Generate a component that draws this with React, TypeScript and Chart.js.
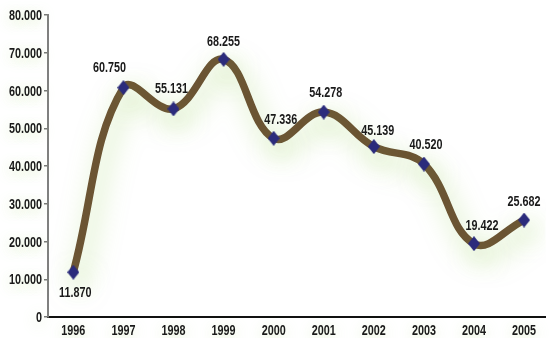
import React, { useEffect, useRef } from "react";
import { Chart, registerables } from "chart.js";

Chart.register(...registerables);

const years = [1996, 1997, 1998, 1999, 2000, 2001, 2002, 2003, 2004, 2005];
const values = [11870, 60750, 55131, 68255, 47336, 54278, 45139, 40520, 19422, 25682];
const yTicks = [0, 10000, 20000, 30000, 40000, 50000, 60000, 70000, 80000];
// label anchor offsets (dx, dy) relative to each point
const labelDx = [2, -14, -2, 0, 7, 2, 4, 2, 8, 0];
const labelDy = [21, -20, -20, -17, -18, -19, -16, -19, -18, -18];

const FONT = '"Liberation Sans", Arial, sans-serif';
const SX = 0.72; // horizontal condensing to mimic a narrow face

function fmt(v: number): string {
  if (v === 0) return "0";
  const s = Math.round(v).toString();
  return s.replace(/\B(?=(\d{3})+(?!\d))/g, ".");
}

function narrowText(ctx: CanvasRenderingContext2D, text: string, x: number, y: number, align: CanvasTextAlign) {
  ctx.save();
  ctx.translate(x, y);
  ctx.scale(SX, 1);
  ctx.textAlign = align;
  ctx.fillText(text, 0, 0);
  ctx.restore();
}

function makeDiamond(): HTMLCanvasElement {
  const c = document.createElement("canvas");
  c.width = 12;
  c.height = 15;
  const g = c.getContext("2d")!;
  g.fillStyle = "#2b2b7c";
  g.beginPath();
  g.moveTo(6, 0);
  g.lineTo(12, 7.5);
  g.lineTo(6, 15);
  g.lineTo(0, 7.5);
  g.closePath();
  g.fill();
  return c;
}

const glowPlugin = {
  id: "glow",
  beforeDatasetDraw(chart: any) {
    const ctx = chart.ctx;
    ctx.save();
    ctx.shadowColor = "rgba(150,205,90,0.55)";
    ctx.shadowBlur = 26;
    ctx.shadowOffsetX = 5;
    ctx.shadowOffsetY = 10;
  },
  afterDatasetDraw(chart: any) {
    chart.ctx.restore();
  },
};

const textPlugin = {
  id: "texts",
  beforeDatasetsDraw(chart: any) {
    const ctx = chart.ctx;
    const xs = chart.scales.x;
    const ys = chart.scales.y;
    ctx.save();
    ctx.font = `bold 15px ${FONT}`;
    ctx.fillStyle = "#1a1a1a";
    ctx.textBaseline = "middle";
    ctx.shadowColor = "rgba(170,215,120,0.45)";
    ctx.shadowBlur = 14;
    ctx.shadowOffsetY = 3;
    yTicks.forEach((v) => {
      narrowText(ctx, fmt(v), 42, ys.getPixelForValue(v) + 1, "right");
    });
    years.forEach((yr) => {
      narrowText(ctx, String(yr), xs.getPixelForValue(yr), 330.5, "center");
    });
    ctx.restore();
  },
  afterDatasetsDraw(chart: any) {
    const ctx = chart.ctx;
    const meta = chart.getDatasetMeta(0);
    ctx.save();
    ctx.font = `bold 15px ${FONT}`;
    ctx.fillStyle = "#1a1a1a";
    ctx.textBaseline = "middle";
    meta.data.forEach((pt: any, i: number) => {
      narrowText(ctx, fmt(values[i]), pt.x + labelDx[i], pt.y + labelDy[i], "center");
    });
    ctx.restore();
  },
};

export default function App() {
  const ref = useRef<HTMLCanvasElement>(null);
  useEffect(() => {
    const diamond = makeDiamond();
    const chart = new Chart(ref.current!, {
      type: "line",
      data: {
        datasets: [
          {
            data: years.map((y, i) => ({ x: y, y: values[i] })),
            borderColor: "#6b5433",
            borderWidth: 7.5,
            borderCapStyle: "round",
            borderJoinStyle: "round",
            tension: 0.4,
            fill: false,
            pointStyle: diamond as any,
            pointRadius: 6,
          },
        ],
      },
      options: {
        responsive: false,
        animation: false,
        events: [],
        layout: { padding: { top: 15, right: 0, bottom: 0, left: 0 } },
        plugins: { legend: { display: false }, tooltip: { enabled: false } },
        scales: {
          x: {
            type: "linear",
            min: 1995.4946,
            max: 2005.4277,
            afterBuildTicks(scale: any) {
              scale.ticks = years.map((v) => ({ value: v }));
            },
            afterFit(scale: any) {
              scale.height = 21;
            },
            grid: { display: false, drawTicks: false },
            border: { display: true, color: "#111", width: 2 },
            ticks: { display: false },
          },
          y: {
            min: 0,
            max: 80000,
            afterBuildTicks(scale: any) {
              scale.ticks = yTicks.map((v) => ({ value: v }));
            },
            afterFit(scale: any) {
              scale.width = 48;
            },
            grid: {
              drawOnChartArea: false,
              drawTicks: true,
              tickLength: 4,
              color: "#777",
              lineWidth: 1.5,
            },
            border: { display: true, color: "#808080", width: 2 },
            ticks: { display: false },
          },
        },
      },
      plugins: [glowPlugin, textPlugin],
    } as any);
    return () => chart.destroy();
  }, []);
  return (
    <div style={{ position: "fixed", left: 0, top: 0, width: 559, height: 338, background: "#fff" }}>
      <canvas ref={ref} width={559} height={338} />
    </div>
  );
}
